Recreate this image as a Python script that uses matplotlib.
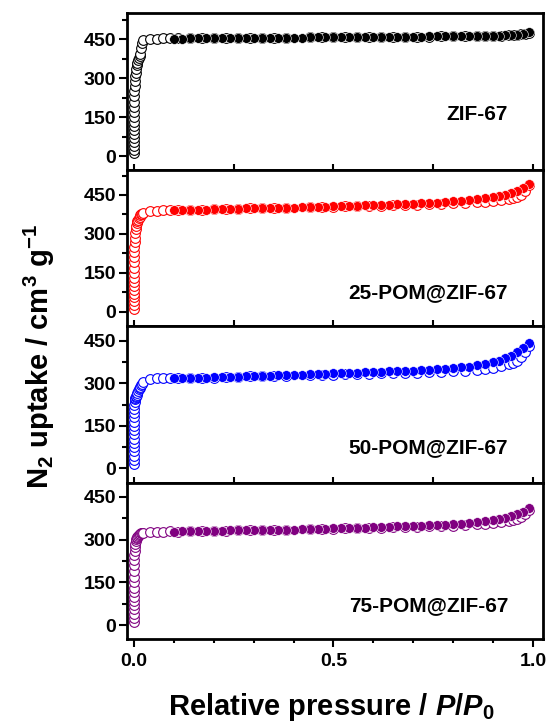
import matplotlib
matplotlib.use("Agg")
import matplotlib.pyplot as plt
from matplotlib.ticker import MultipleLocator, FormatStrFormatter

plt.rcParams['font.family'] = ['Liberation Sans', 'DejaVu Sans']
plt.rcParams['font.weight'] = 'bold'
plt.rcParams['mathtext.fontset'] = 'custom'
plt.rcParams['mathtext.rm'] = 'Liberation Sans:bold'
plt.rcParams['mathtext.bf'] = 'Liberation Sans:bold'
plt.rcParams['mathtext.it'] = 'Liberation Sans:bold:italic'
plt.rcParams['mathtext.default'] = 'bf'

# ---- data ----
# adsorption pressures (open symbols)
p_ads = [0.00001, 0.00002, 0.00003, 0.00005, 0.00007, 0.0001, 0.00013, 0.00017, 0.0002,
         0.0003, 0.0004, 0.0005, 0.0007, 0.0009, 0.0012, 0.0016, 0.002, 0.003, 0.004,
         0.005, 0.0065, 0.008, 0.010, 0.012, 0.014, 0.016, 0.018, 0.020, 0.022,
         0.040, 0.057, 0.073, 0.090,
         0.11, 0.14, 0.17, 0.20, 0.23, 0.26, 0.29, 0.32, 0.35, 0.38, 0.44, 0.47, 0.50,
         0.53, 0.56, 0.59, 0.62, 0.65, 0.68, 0.71, 0.74, 0.77, 0.80, 0.83, 0.86, 0.88,
         0.90, 0.92, 0.94, 0.95, 0.96, 0.97, 0.98, 0.99]
# desorption pressures (filled symbols)
p_des = [0.99, 0.975, 0.96, 0.945, 0.93, 0.915, 0.90, 0.88, 0.86, 0.84, 0.82, 0.80,
         0.78, 0.76, 0.74, 0.72, 0.70, 0.68, 0.66, 0.64, 0.62, 0.60, 0.58, 0.56, 0.54,
         0.52, 0.50, 0.48, 0.46, 0.44, 0.42, 0.40, 0.38, 0.36, 0.34, 0.32, 0.30, 0.28, 0.26,
         0.24, 0.22, 0.20, 0.18, 0.16, 0.14, 0.12, 0.10]

zif_ads = [10, 25, 40, 55, 70, 85, 100, 115, 130, 150, 170, 190, 210, 230, 250, 270, 290,
           310, 322, 335, 350, 360, 370, 378, 384, 394, 415, 435, 449, 452, 453, 454, 454,
           454, 454, 455, 455, 455, 455, 455, 456, 456, 456, 457, 457, 457, 458, 458, 458,
           459, 459, 459, 460, 460, 461, 461, 462, 462, 463, 463, 464, 465, 466, 467, 469,
           472, 476]
zif_des = [477, 470, 467, 466, 465, 464, 464, 463, 463, 462, 462, 462, 461, 461, 461, 460,
           460, 460, 459, 459, 459, 459, 458, 458, 458, 458, 457, 457, 457, 457, 456, 456,
           456, 456, 456, 455, 455, 455, 455, 455, 454, 454, 454, 454, 454, 453, 453]

p25_ads = [10, 25, 40, 55, 70, 85, 100, 115, 130, 150, 170, 190, 210, 230, 250, 268, 285,
           305, 320, 332, 343, 350, 355, 362, 367, 371, 375, 378, 381, 388, 390, 391, 392,
           392, 393, 394, 395, 396, 397, 398, 399, 400, 401, 403, 404, 405, 406, 407, 408,
           409, 410, 411, 413, 414, 416, 418, 420, 422, 424, 426, 429, 434, 437, 442, 450,
           465, 488]
p25_des = [492, 478, 466, 458, 451, 446, 442, 437, 433, 430, 427, 425, 423, 421, 419, 418,
           417, 415, 414, 413, 412, 411, 410, 409, 408, 407, 406, 405, 404, 403, 402, 401,
           401, 400, 400, 399, 398, 398, 397, 396, 396, 395, 394, 394, 393, 392, 392]

p50_ads = [15, 30, 45, 60, 75, 90, 105, 120, 135, 150, 165, 180, 195, 210, 222, 235, 243,
           248, 252, 256, 260, 264, 272, 279, 284, 288, 293, 298, 304, 316, 317, 318, 318,
           317, 318, 319, 320, 321, 322, 324, 325, 326, 327, 329, 330, 331, 332, 333, 334,
           335, 336, 337, 338, 340, 341, 343, 345, 348, 351, 355, 360, 367, 372, 380, 392,
           410, 432]
p50_des = [441, 425, 410, 398, 388, 380, 374, 368, 363, 359, 356, 353, 351, 349, 347, 346,
           345, 344, 343, 342, 341, 340, 339, 338, 337, 336, 335, 334, 333, 332, 331, 330,
           329, 328, 327, 326, 325, 324, 323, 322, 321, 321, 320, 319, 318, 318, 317]

p75_ads = [10, 25, 40, 55, 70, 85, 100, 115, 130, 150, 170, 190, 210, 228, 245, 260, 272,
           285, 294, 301, 306, 310, 313, 316, 318, 320, 322, 323, 324, 326, 327, 328, 329,
           328, 329, 330, 331, 331, 332, 333, 333, 334, 335, 336, 337, 338, 339, 340, 341,
           342, 343, 344, 345, 346, 347, 349, 351, 353, 355, 357, 360, 364, 367, 371, 378,
           390, 405]
p75_des = [409, 397, 388, 381, 376, 371, 368, 364, 361, 358, 356, 354, 352, 351, 350, 349,
           348, 347, 346, 345, 344, 343, 342, 341, 341, 340, 339, 338, 338, 337, 336, 335,
           335, 335, 334, 334, 333, 333, 332, 332, 331, 331, 330, 330, 329, 329, 328]

names = ["ZIF-67", "25-POM@ZIF-67", "50-POM@ZIF-67", "75-POM@ZIF-67"]
colors = ["black", "#FF0000", "#0000FF", "#800080"]
ads = [zif_ads, p25_ads, p50_ads, p75_ads]
des = [zif_des, p25_des, p50_des, p75_des]
ylims = [(-52, 551), (-55, 548), (-50, 502), (-49, 500)]
label_y = [0.351, 0.214, 0.224, 0.213]

fig, axes = plt.subplots(4, 1, figsize=(5.49, 7.28), dpi=100)
fig.subplots_adjust(left=0.2313, right=0.989, top=0.982, bottom=0.1223, hspace=0)

for i, ax in enumerate(axes):
    c = colors[i]
    ax.plot(p_ads, ads[i], 'o', ms=7, mfc='white', mec=c, mew=0.8, ls='none')
    ax.plot(p_des, des[i], 'o', ms=7, mfc=c, mec='white', mew=0.4, ls='none')
    ax.set_xlim(-0.0175, 1.025)
    ax.set_ylim(*ylims[i])
    ax.yaxis.set_major_locator(MultipleLocator(150))
    ax.yaxis.set_minor_locator(MultipleLocator(75))
    ax.tick_params(axis='y', which='major', direction='out', length=6, width=1.5,
                   labelsize=14, pad=2)
    ax.tick_params(axis='y', which='minor', direction='out', length=3.5, width=1.5)
    for s in ax.spines.values():
        s.set_linewidth(2)
    ax.text(0.916, label_y[i], names[i], transform=ax.transAxes, ha='right',
            va='center', fontsize=15, fontweight='bold')
    if i < 3:
        ax.xaxis.set_major_locator(MultipleLocator(0.25))
        ax.tick_params(axis='x', which='major', direction='in', length=4, width=1.5,
                       labelbottom=False)
        ax.tick_params(axis='x', which='minor', bottom=False)

bax = axes[-1]
bax.xaxis.set_major_locator(MultipleLocator(0.5))
bax.xaxis.set_minor_locator(MultipleLocator(0.1))
bax.xaxis.set_major_formatter(FormatStrFormatter('%.1f'))
bax.tick_params(axis='x', which='major', direction='out', length=6, width=1.5,
                labelsize=14, pad=4)
bax.tick_params(axis='x', which='minor', direction='out', length=3, width=1.5)

fig.text(0.072, 0.511, r"N$_2$ uptake / cm$^3$ g$^{-1}$", rotation=90, ha='center',
         va='center', fontsize=21, fontweight='bold')
fig.text(0.603, 0.029, r"Relative pressure / $\mathit{P}$/$\mathit{P}_0$", ha='center',
         va='center', fontsize=21, fontweight='bold')

plt.savefig("out.png", dpi=100)
